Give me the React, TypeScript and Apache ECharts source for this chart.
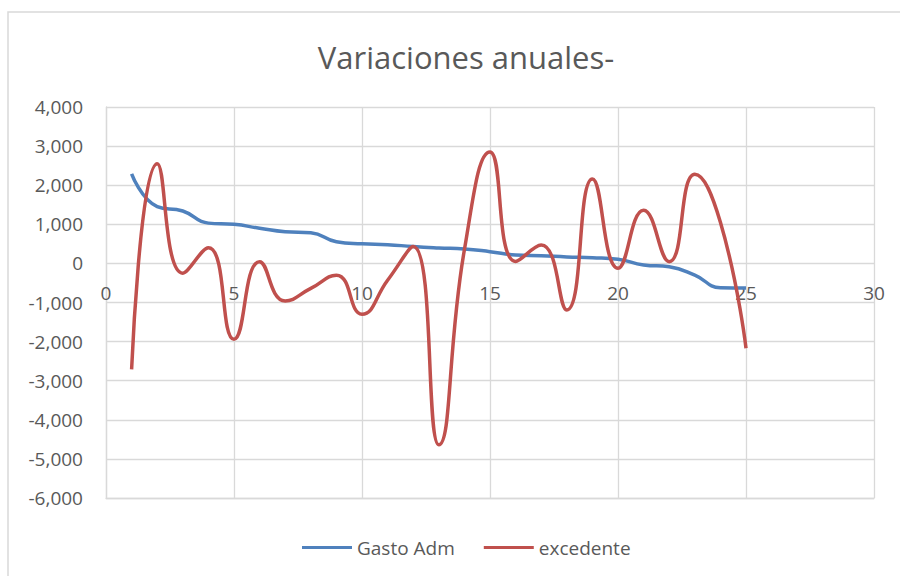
import React, { useEffect, useRef } from "react";
import * as echarts from "echarts";

const xValues = [1, 2, 3, 4, 5, 6, 7, 8, 9, 10, 11, 12, 13, 14, 15, 16, 17, 18, 19, 20, 21, 22, 23, 24, 25];
const gastoAdm = [2290, 1450, 1340, 1030, 1000, 900, 810, 785, 555, 500, 480, 430, 395, 370, 300, 215, 195, 165, 145, 105, -40, -85, -300, -620, -630];
const excedente = [-2710, 2550, -250, 400, -1940, 45, -960, -640, -300, -1300, -430, 430, -4640, 350, 2850, 50, 470, -1190, 2160, -125, 1360, 45, 2280, 1050, -2170];
const seriesNames = ["Gasto Adm", "excedente"];
const chartTitle = "Variaciones anuales-";

const FONT = "'Open Sans', 'Noto Sans', sans-serif";
const TEXT = "#595959";
const GRID = "#d9d9d9";

const GRID_TOP = 107;
const GRID_BOTTOM_Y = 498;
const Y_MIN = -6000;
const Y_MAX = 4000;

export default function App() {
  const ref = useRef<HTMLDivElement>(null);
  useEffect(() => {
    if (!ref.current) return;
    const chart = echarts.init(ref.current, undefined, { renderer: "svg" });
    const pair = (ys: number[]) => xValues.map((x, i) => [x, ys[i]]);
    // x labels sit just under the zero line (Excel axis crossing at 0)
    const zeroY = GRID_TOP + ((Y_MAX - 0) / (Y_MAX - Y_MIN)) * (GRID_BOTTOM_Y - GRID_TOP);
    const labelMargin = zeroY + 20 - GRID_BOTTOM_Y;
    chart.setOption({
      animation: false,
      backgroundColor: "#ffffff",
      textStyle: { fontFamily: FONT },
      title: {
        text: chartTitle,
        left: 461,
        textAlign: "center",
        top: 36,
        textStyle: { fontFamily: FONT, fontSize: 31, fontWeight: "normal", color: TEXT },
      },
      graphic: [
        {
          type: "rect",
          shape: { x: 8, y: 12, width: 1000, height: 1000 },
          style: { fill: "none", stroke: GRID, lineWidth: 1.5 },
          silent: true,
          z: -1,
        },
      ],
      legend: {
        data: seriesNames,
        left: 297,
        top: 533,
        icon: "rect",
        itemWidth: 50,
        itemHeight: 3,
        itemGap: 29,
        textStyle: { fontFamily: FONT, fontSize: 19, color: TEXT },
      },
      grid: { left: 106, top: GRID_TOP, right: 26, bottom: 576 - GRID_BOTTOM_Y, containLabel: false },
      xAxis: {
        type: "value",
        min: 0,
        max: 30,
        interval: 5,
        axisLine: { show: true, onZero: false, lineStyle: { color: GRID, width: 1.3 } },
        axisTick: { show: false },
        axisLabel: { fontFamily: FONT, fontSize: 19, color: TEXT, margin: labelMargin },
        splitLine: { show: true, lineStyle: { color: GRID, width: 1.3 } },
      },
      yAxis: {
        type: "value",
        min: Y_MIN,
        max: Y_MAX,
        interval: 1000,
        axisLine: { show: true, onZero: false, lineStyle: { color: GRID, width: 1.3 } },
        axisTick: { show: false },
        axisLabel: {
          fontFamily: FONT,
          fontSize: 19,
          color: TEXT,
          margin: 23,
          formatter: (v: number) => v.toLocaleString("en-US"),
        },
        splitLine: { show: true, lineStyle: { color: GRID, width: 1.3 } },
      },
      series: [
        {
          name: seriesNames[0],
          type: "line",
          data: pair(gastoAdm),
          smooth: 0.5,
          showSymbol: false,
          symbol: "none",
          color: "#4F81BD",
          lineStyle: { color: "#4F81BD", width: 3.5 },
        },
        {
          name: seriesNames[1],
          type: "line",
          data: pair(excedente),
          smooth: 0.5,
          showSymbol: false,
          symbol: "none",
          color: "#C0504D",
          lineStyle: { color: "#C0504D", width: 3.5 },
        },
      ],
    });
    return () => chart.dispose();
  }, []);
  return (
    <div
      ref={ref}
      style={{ position: "fixed", left: 0, top: 0, width: 900, height: 576, background: "#fff" }}
    />
  );
}
